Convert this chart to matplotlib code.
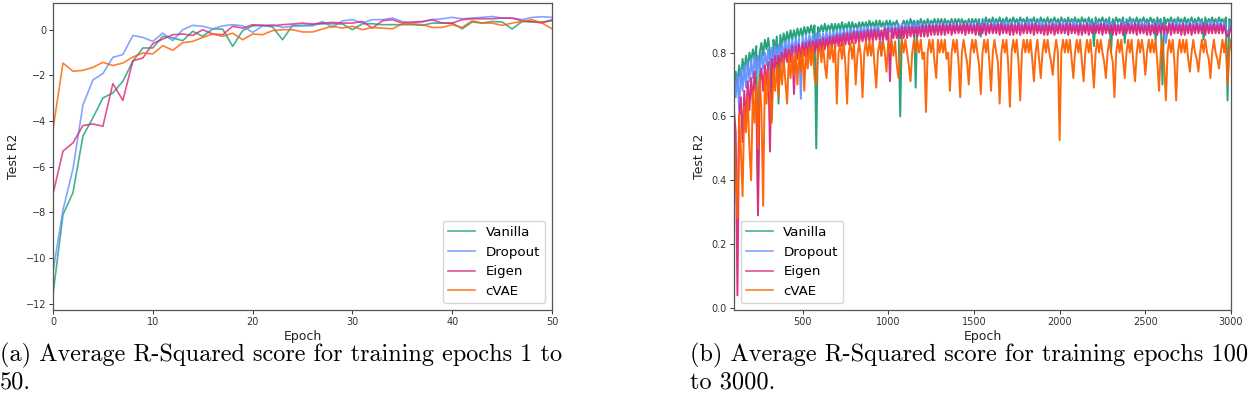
import numpy as np
import matplotlib
matplotlib.use("Agg")
import matplotlib.pyplot as plt

# ---------------- data: panel (a), epochs 0..50 ----------------
epochs_a = list(range(0, 51))
vanilla_a = [-11.6, -8.1, -7.14, -4.66, -3.86, -2.99, -2.77, -2.26, -1.38, -0.80,
             -0.80, -0.29, -0.36, -0.48, -0.07, -0.29, 0.03, 0.03, -0.73, -0.04,
             0.17, 0.19, 0.12, -0.44, 0.19, 0.19, 0.22, 0.26, 0.26, 0.25,
             0.00, 0.26, 0.26, 0.22, 0.22, 0.22, 0.22, 0.19, 0.29, 0.29,
             0.29, 0.04, 0.34, 0.29, 0.36, 0.34, 0.03, 0.36, 0.34, 0.34, 0.39]
dropout_a = [-10.6, -7.9, -6.1, -3.3, -2.2, -1.92, -1.21, -1.09, -0.25, -0.34,
             -0.51, -0.15, -0.48, 0.00, 0.19, 0.15, 0.04, 0.17, 0.22, 0.17,
             -0.12, 0.17, 0.22, 0.10, 0.15, 0.17, 0.17, 0.36, 0.10, 0.39,
             0.44, 0.29, 0.44, 0.44, 0.51, 0.36, 0.29, 0.34, 0.44, 0.48,
             0.54, 0.48, 0.51, 0.54, 0.58, 0.51, 0.51, 0.44, 0.54, 0.57, 0.54]
eigen_a = [-7.2, -5.32, -4.96, -4.2, -4.13, -4.23, -2.36, -3.1, -1.36, -1.24,
           -0.61, -0.41, -0.22, -0.19, -0.25, 0.00, -0.19, -0.22, 0.15, 0.07,
           0.22, 0.19, 0.17, 0.22, 0.25, 0.29, 0.25, 0.29, 0.32, 0.29,
           0.29, 0.36, 0.07, 0.39, 0.44, 0.29, 0.34, 0.36, 0.44, 0.29,
           0.29, 0.44, 0.48, 0.48, 0.48, 0.51, 0.51, 0.39, 0.36, 0.29, 0.44]
cvae_a = [-4.37, -1.46, -1.82, -1.78, -1.65, -1.43, -1.57, -1.46, -1.20, -1.02,
          -1.06, -0.70, -0.90, -0.57, -0.51, -0.34, -0.19, -0.29, -0.15, -0.44,
          -0.19, -0.22, -0.04, 0.00, 0.00, -0.10, -0.10, 0.03, 0.15, 0.07,
          0.15, 0.00, 0.10, 0.07, 0.04, 0.25, 0.25, 0.22, 0.10, 0.10,
          0.22, 0.10, 0.39, 0.29, 0.29, 0.19, 0.29, 0.36, 0.44, 0.29, 0.04]

# ---------------- data: panel (b), epochs 100..3000 (every 10) ----------------
epochs_b = list(range(100, 3001, 10))
vanilla_b = [
    0.66, 0.74, 0.70, 0.76, 0.71, 0.78, 0.74, 0.79, 0.75, 0.80, 0.77, 0.81, 0.78, 0.82, 0.35, 0.80, 0.83, 0.79, 0.84, 0.81,
    0.845, 0.80, 0.59, 0.84, 0.81, 0.85, 0.64, 0.855, 0.82, 0.86, 0.83, 0.865, 0.835, 0.87, 0.84, 0.87, 0.845, 0.875, 0.85, 0.875,
    0.85, 0.88, 0.855, 0.88, 0.86, 0.885, 0.86, 0.885, 0.50, 0.88, 0.865, 0.885, 0.865, 0.89, 0.865, 0.885, 0.87, 0.89, 0.865, 0.89,
    0.87, 0.89, 0.87, 0.895, 0.87, 0.89, 0.875, 0.895, 0.87, 0.895, 0.875, 0.89, 0.875, 0.895, 0.875, 0.895, 0.88, 0.895, 0.875, 0.90,
    0.88, 0.895, 0.88, 0.90, 0.875, 0.90, 0.88, 0.895, 0.88, 0.90, 0.88, 0.90, 0.88, 0.895, 0.885, 0.90, 0.88, 0.60, 0.885, 0.90,
    0.885, 0.90, 0.88, 0.905, 0.885, 0.90, 0.69, 0.90, 0.885, 0.905, 0.885, 0.90, 0.885, 0.905, 0.885, 0.90, 0.89, 0.905, 0.885, 0.905,
    0.89, 0.905, 0.885, 0.905, 0.89, 0.90, 0.89, 0.905, 0.885, 0.905, 0.89, 0.905, 0.89, 0.905, 0.89, 0.90, 0.89, 0.905, 0.885, 0.905,
    0.89, 0.905, 0.89, 0.905, 0.85, 0.905, 0.89, 0.91, 0.89, 0.905, 0.89, 0.91, 0.89, 0.905, 0.89, 0.91, 0.89, 0.905, 0.89, 0.91,
    0.89, 0.905, 0.895, 0.91, 0.89, 0.905, 0.89, 0.91, 0.895, 0.905, 0.89, 0.91, 0.89, 0.905, 0.895, 0.91, 0.89, 0.905, 0.89, 0.91,
    0.895, 0.905, 0.89, 0.91, 0.89, 0.905, 0.895, 0.91, 0.89, 0.905, 0.89, 0.91, 0.895, 0.905, 0.89, 0.91, 0.89, 0.905, 0.895, 0.91,
    0.89, 0.905, 0.89, 0.91, 0.895, 0.905, 0.89, 0.91, 0.89, 0.905, 0.82, 0.91, 0.89, 0.905, 0.895, 0.91, 0.89, 0.905, 0.89, 0.91,
    0.80, 0.905, 0.89, 0.91, 0.895, 0.905, 0.89, 0.91, 0.83, 0.905, 0.89, 0.91, 0.895, 0.905, 0.89, 0.91, 0.89, 0.905, 0.895, 0.91,
    0.89, 0.905, 0.89, 0.91, 0.895, 0.905, 0.84, 0.91, 0.89, 0.905, 0.70, 0.91, 0.89, 0.905, 0.895, 0.91, 0.89, 0.905, 0.89, 0.91,
    0.895, 0.905, 0.89, 0.91, 0.89, 0.905, 0.895, 0.91, 0.89, 0.905, 0.89, 0.91, 0.895, 0.905, 0.84, 0.91, 0.89, 0.905, 0.895, 0.91,
    0.89, 0.905, 0.89, 0.91, 0.895, 0.905, 0.89, 0.91, 0.65, 0.905, 0.89]
dropout_b = [
    0.74, 0.66, 0.73, 0.62, 0.75, 0.68, 0.76, 0.69, 0.77, 0.71, 0.78, 0.72, 0.79, 0.73, 0.79, 0.74, 0.80, 0.75, 0.80, 0.76,
    0.81, 0.76, 0.815, 0.77, 0.82, 0.78, 0.825, 0.785, 0.83, 0.79, 0.835, 0.795, 0.84, 0.80, 0.84, 0.80, 0.845, 0.805, 0.845, 0.655,
    0.85, 0.81, 0.85, 0.815, 0.855, 0.82, 0.855, 0.82, 0.86, 0.825, 0.86, 0.825, 0.86, 0.83, 0.865, 0.83, 0.865, 0.835, 0.865, 0.835,
    0.87, 0.84, 0.87, 0.84, 0.87, 0.845, 0.875, 0.845, 0.875, 0.85, 0.875, 0.85, 0.875, 0.85, 0.88, 0.855, 0.88, 0.855, 0.88, 0.855,
    0.88, 0.855, 0.88, 0.86, 0.885, 0.86, 0.79, 0.86, 0.885, 0.86, 0.885, 0.865, 0.885, 0.865, 0.885, 0.865, 0.89, 0.865, 0.89, 0.865,
    0.89, 0.865, 0.89, 0.87, 0.89, 0.865, 0.895, 0.87, 0.89, 0.87, 0.895, 0.865, 0.89, 0.87, 0.895, 0.87, 0.89, 0.87, 0.895, 0.87,
    0.89, 0.87, 0.895, 0.87, 0.89, 0.87, 0.895, 0.87, 0.895, 0.865, 0.89, 0.87, 0.895, 0.87, 0.89, 0.875, 0.895, 0.87, 0.895, 0.87,
    0.895, 0.87, 0.895, 0.875, 0.89, 0.87, 0.90, 0.875, 0.895, 0.87, 0.895, 0.875, 0.90, 0.87, 0.895, 0.875, 0.895, 0.87, 0.90, 0.875,
    0.895, 0.87, 0.895, 0.875, 0.89, 0.87, 0.90, 0.875, 0.895, 0.87, 0.895, 0.875, 0.90, 0.87, 0.895, 0.875, 0.895, 0.87, 0.90, 0.875,
    0.895, 0.87, 0.895, 0.875, 0.89, 0.87, 0.90, 0.875, 0.895, 0.87, 0.895, 0.875, 0.90, 0.87, 0.895, 0.875, 0.895, 0.87, 0.90, 0.875,
    0.895, 0.87, 0.895, 0.875, 0.89, 0.87, 0.90, 0.875, 0.895, 0.87, 0.895, 0.875, 0.90, 0.87, 0.895, 0.875, 0.895, 0.87, 0.90, 0.875,
    0.895, 0.87, 0.895, 0.875, 0.89, 0.87, 0.90, 0.875, 0.895, 0.87, 0.895, 0.875, 0.90, 0.87, 0.895, 0.875, 0.895, 0.87, 0.90, 0.875,
    0.895, 0.87, 0.895, 0.875, 0.89, 0.87, 0.90, 0.875, 0.895, 0.87, 0.895, 0.875, 0.83, 0.87, 0.895, 0.875, 0.895, 0.87, 0.90, 0.875,
    0.895, 0.87, 0.895, 0.875, 0.89, 0.87, 0.90, 0.875, 0.895, 0.87, 0.895, 0.875, 0.90, 0.87, 0.895, 0.875, 0.895, 0.87, 0.90, 0.875,
    0.895, 0.87, 0.90, 0.875, 0.895, 0.87, 0.895, 0.875, 0.86, 0.875, 0.895]
eigen_b = [
    0.62, 0.55, 0.04, 0.60, 0.66, 0.52, 0.68, 0.58, 0.71, 0.62, 0.72, 0.64, 0.74, 0.66, 0.29, 0.70, 0.75, 0.68, 0.76, 0.70,
    0.77, 0.49, 0.78, 0.72, 0.79, 0.74, 0.79, 0.75, 0.80, 0.76, 0.81, 0.77, 0.81, 0.77, 0.82, 0.67, 0.82, 0.78, 0.825, 0.785,
    0.83, 0.79, 0.83, 0.79, 0.835, 0.795, 0.835, 0.80, 0.84, 0.80, 0.84, 0.805, 0.845, 0.81, 0.845, 0.81, 0.85, 0.815, 0.85, 0.815,
    0.855, 0.82, 0.855, 0.82, 0.86, 0.825, 0.86, 0.825, 0.86, 0.83, 0.865, 0.83, 0.865, 0.83, 0.865, 0.835, 0.865, 0.835, 0.87, 0.835,
    0.87, 0.835, 0.87, 0.84, 0.87, 0.84, 0.87, 0.84, 0.875, 0.84, 0.875, 0.71, 0.875, 0.845, 0.875, 0.845, 0.875, 0.845, 0.88, 0.845,
    0.88, 0.845, 0.88, 0.85, 0.88, 0.85, 0.88, 0.85, 0.88, 0.85, 0.885, 0.85, 0.885, 0.85, 0.885, 0.855, 0.885, 0.855, 0.885, 0.855,
    0.885, 0.855, 0.89, 0.855, 0.885, 0.86, 0.89, 0.855, 0.885, 0.86, 0.89, 0.86, 0.885, 0.86, 0.89, 0.855, 0.89, 0.86, 0.885, 0.86,
    0.885, 0.855, 0.89, 0.855, 0.885, 0.86, 0.89, 0.855, 0.885, 0.86, 0.89, 0.86, 0.885, 0.86, 0.89, 0.855, 0.89, 0.86, 0.885, 0.86,
    0.885, 0.855, 0.89, 0.855, 0.885, 0.86, 0.89, 0.855, 0.885, 0.86, 0.89, 0.86, 0.885, 0.86, 0.89, 0.855, 0.89, 0.86, 0.885, 0.86,
    0.885, 0.855, 0.89, 0.855, 0.885, 0.86, 0.89, 0.855, 0.885, 0.86, 0.89, 0.86, 0.885, 0.86, 0.89, 0.855, 0.89, 0.86, 0.885, 0.86,
    0.885, 0.855, 0.89, 0.855, 0.885, 0.86, 0.89, 0.855, 0.885, 0.86, 0.89, 0.86, 0.885, 0.86, 0.89, 0.855, 0.89, 0.86, 0.885, 0.86,
    0.885, 0.855, 0.89, 0.855, 0.885, 0.86, 0.89, 0.855, 0.885, 0.86, 0.89, 0.86, 0.885, 0.86, 0.89, 0.855, 0.89, 0.86, 0.885, 0.86,
    0.885, 0.855, 0.89, 0.855, 0.885, 0.86, 0.89, 0.855, 0.885, 0.86, 0.89, 0.86, 0.885, 0.86, 0.89, 0.855, 0.89, 0.86, 0.885, 0.86,
    0.885, 0.855, 0.89, 0.855, 0.885, 0.86, 0.89, 0.855, 0.885, 0.86, 0.89, 0.86, 0.885, 0.86, 0.89, 0.855, 0.89, 0.86, 0.885, 0.86,
    0.89, 0.86, 0.885, 0.86, 0.89, 0.86, 0.885, 0.86, 0.85, 0.86, 0.88]
cvae_b = [
    0.55, 0.42, 0.28, 0.60, 0.50, 0.35, 0.63, 0.55, 0.66, 0.50, 0.40, 0.68, 0.58, 0.70, 0.50, 0.72, 0.62, 0.32, 0.73, 0.64,
    0.74, 0.66, 0.58, 0.75, 0.68, 0.76, 0.66, 0.77, 0.70, 0.78, 0.71, 0.64, 0.79, 0.72, 0.79, 0.73, 0.80, 0.70, 0.80, 0.74,
    0.81, 0.68, 0.81, 0.75, 0.815, 0.76, 0.82, 0.72, 0.70, 0.80, 0.82, 0.77, 0.82, 0.76, 0.72, 0.82, 0.78, 0.825, 0.77, 0.825,
    0.64, 0.80, 0.825, 0.78, 0.83, 0.76, 0.64, 0.80, 0.83, 0.78, 0.83, 0.70, 0.79, 0.83, 0.79, 0.66, 0.80, 0.835, 0.79, 0.835,
    0.79, 0.835, 0.76, 0.69, 0.80, 0.835, 0.79, 0.835, 0.80, 0.74, 0.835, 0.80, 0.835, 0.79, 0.835, 0.76, 0.72, 0.80, 0.84, 0.80,
    0.84, 0.80, 0.76, 0.71, 0.80, 0.84, 0.80, 0.84, 0.80, 0.84, 0.78, 0.80, 0.614, 0.80, 0.84, 0.80, 0.84, 0.77, 0.72, 0.84,
    0.80, 0.84, 0.80, 0.84, 0.78, 0.80, 0.68, 0.80, 0.84, 0.80, 0.84, 0.77, 0.66, 0.80, 0.84, 0.80, 0.77, 0.70, 0.80, 0.84,
    0.80, 0.84, 0.80, 0.76, 0.67, 0.80, 0.84, 0.80, 0.84, 0.77, 0.68, 0.80, 0.84, 0.80, 0.77, 0.64, 0.80, 0.84, 0.80, 0.84,
    0.76, 0.63, 0.80, 0.84, 0.80, 0.84, 0.77, 0.65, 0.80, 0.84, 0.80, 0.84, 0.80, 0.84, 0.78, 0.71, 0.80, 0.84, 0.78, 0.72,
    0.80, 0.84, 0.80, 0.84, 0.80, 0.77, 0.73, 0.80, 0.84, 0.80, 0.526, 0.80, 0.84, 0.80, 0.84, 0.80, 0.84, 0.78, 0.72, 0.80,
    0.84, 0.80, 0.84, 0.77, 0.71, 0.80, 0.84, 0.80, 0.84, 0.77, 0.69, 0.80, 0.84, 0.80, 0.84, 0.80, 0.77, 0.72, 0.80, 0.84,
    0.80, 0.77, 0.66, 0.80, 0.84, 0.80, 0.84, 0.78, 0.72, 0.80, 0.84, 0.80, 0.84, 0.77, 0.71, 0.80, 0.84, 0.80, 0.84, 0.80,
    0.73, 0.80, 0.84, 0.80, 0.84, 0.80, 0.84, 0.77, 0.68, 0.80, 0.84, 0.76, 0.65, 0.80, 0.84, 0.80, 0.84, 0.77, 0.65, 0.80,
    0.84, 0.80, 0.84, 0.80, 0.84, 0.78, 0.74, 0.80, 0.84, 0.80, 0.78, 0.74, 0.80, 0.84, 0.80, 0.84, 0.80, 0.78, 0.72, 0.80,
    0.84, 0.80, 0.78, 0.75, 0.80, 0.84, 0.80, 0.84, 0.70, 0.80, 0.84]

for _s in (vanilla_b, dropout_b, eigen_b, cvae_b):
    assert len(_s) == len(epochs_b), len(_s)

labels = ["Vanilla", "Dropout", "Eigen", "cVAE"]
colors = ["#1b9e77", "#648fff", "#dc267f", "#fe6100"]
caption_a = ["(a) Average R-Squared score for training epochs 1 to", "50."]
caption_b = ["(b) Average R-Squared score for training epochs 100", "to 3000."]

# ---------------- figure ----------------
fig = plt.figure(figsize=(12.5, 4.2), dpi=100)
ax1 = fig.add_axes([53 / 1250, 1 - 310 / 420, (552 - 53) / 1250, 307 / 420])
ax2 = fig.add_axes([734 / 1250, 1 - 310 / 420, (1231 - 734) / 1250, 307 / 420])

for ys, lab, c in zip([vanilla_a, dropout_a, eigen_a, cvae_a], labels, colors):
    ax1.plot(epochs_a, ys, color=c, lw=1.2, alpha=0.8, label=lab)
for ys, lab, c in zip([vanilla_b, dropout_b, eigen_b, cvae_b], labels, colors):
    ax2.plot(epochs_b, ys, color=c, lw=1.4, alpha=0.95, label=lab)

ax1.set_xlim(0, 50)
ax1.set_ylim(-12.28, 1.17)
ax1.set_xticks([0, 10, 20, 30, 40, 50])
ax1.set_yticks([-12, -10, -8, -6, -4, -2, 0])
ax2.set_xlim(100, 3000)
ax2.set_ylim(-0.006, 0.955)
ax2.set_xticks([500, 1000, 1500, 2000, 2500, 3000])
ax2.set_yticks([0.0, 0.2, 0.4, 0.6, 0.8])

for ax in (ax1, ax2):
    ax.set_xlabel("Epoch", fontsize=9, labelpad=2, color="#222222")
    ax.set_ylabel("Test R2", fontsize=9, labelpad=4, color="#222222")
    ax.tick_params(labelsize=7, length=3, width=0.7, pad=2, colors="#333333")
    for s in ax.spines.values():
        s.set_color("#555555")
        s.set_linewidth(0.9)

leg1 = ax1.legend(loc="lower right", fontsize=9.6, framealpha=0.8)
leg2 = ax2.legend(loc="lower left", fontsize=9.6, framealpha=0.8)
for leg in (leg1, leg2):
    for h in leg.get_lines():
        h.set_linewidth(1.2)
        h.set_alpha(0.8)

cap_font = dict(family=["cmr10", "DejaVu Serif"], fontsize=17.5, color="black")
fig.text(0.0, 1 - 355 / 420, caption_a[0], ha="left", va="center", **cap_font)
fig.text(0.0, 1 - 382 / 420, caption_a[1], ha="left", va="center", **cap_font)
fig.text(690 / 1250, 1 - 355 / 420, caption_b[0], ha="left", va="center", **cap_font)
fig.text(690 / 1250, 1 - 382 / 420, caption_b[1], ha="left", va="center", **cap_font)

fig.savefig("out.png", dpi=100)
